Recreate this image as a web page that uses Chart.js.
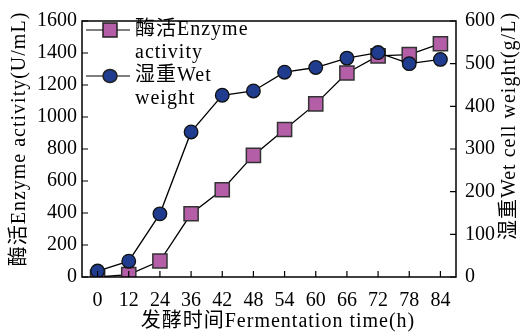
<!DOCTYPE html>
<html>
<head>
<meta charset="utf-8">
<script src="https://cdn.jsdelivr.net/npm/chart.js@4.4.0/dist/chart.umd.min.js"></script>
<style>
  html, body { margin: 0; padding: 0; background: #fff; }
  #wrap { width: 522px; height: 333px; }
</style>
</head>
<body>
<div id="wrap"><canvas id="chart" width="522" height="333"></canvas></div>
<script>
// ===== DATA =====
const hours = ["0", "12", "24", "36", "42", "48", "54", "60", "66", "72", "78", "84"];
const enzymeActivity = [0, 15, 100, 395, 545, 760, 922, 1082, 1275, 1382, 1390, 1458]; // U/mL
const wetWeight = [14, 37, 148, 340, 426, 436, 480, 491, 513, 526, 500, 510]; // g/L
const leftTicks = [0, 200, 400, 600, 800, 1000, 1200, 1400, 1600];
const rightTicks = [0, 100, 200, 300, 400, 500, 600];

const FONT = '"Liberation Serif", "Noto Sans CJK SC", serif';
const PINK = "#b35ea6";
const NAVY = "#1f3c8e";

// ===== FRAME, INNER TICKS, TITLES, LEGEND =====
const decorPlugin = {
  id: "decor",
  afterDraw(chart) {
    const ctx = chart.ctx;
    const a = chart.chartArea;
    const { x, y, y1 } = chart.scales;
    ctx.save();
    ctx.strokeStyle = "#000";
    ctx.lineWidth = 1.5;
    ctx.strokeRect(a.left, a.top, a.right - a.left, a.bottom - a.top);

    // tick marks pointing inwards
    ctx.lineWidth = 1.2;
    ctx.beginPath();
    x.ticks.forEach((t, i) => {
      const px = x.getPixelForTick(i);
      ctx.moveTo(px, a.bottom);
      ctx.lineTo(px, a.bottom - 6);
    });
    y.ticks.forEach((t, i) => {
      const py = y.getPixelForTick(i);
      ctx.moveTo(a.left, py);
      ctx.lineTo(a.left + 6, py);
    });
    y1.ticks.forEach((t, i) => {
      const py = y1.getPixelForTick(i);
      ctx.moveTo(a.right, py);
      ctx.lineTo(a.right - 6, py);
    });
    ctx.stroke();

    // axis titles
    ctx.fillStyle = "#000";
    ctx.font = "20px " + FONT;
    ctx.letterSpacing = "1px";
    ctx.textAlign = "center";
    ctx.textBaseline = "middle";
    ctx.fillText("发酵时间Fermentation time(h)", 278, 322);

    ctx.save();
    ctx.translate(20, 139);
    ctx.rotate(-Math.PI / 2);
    ctx.fillText("酶活Enzyme activity(U/mL)", 0, 0);
    ctx.restore();

    ctx.save();
    ctx.translate(510, 126);
    ctx.rotate(-Math.PI / 2);
    ctx.fillText("湿重Wet cell weight(g/L)", 0, 0);
    ctx.restore();

    // legend
    const rows = [
      { y: 30, text: ["酶活Enzyme", "activity"], shape: "rect" },
      { y: 76, text: ["湿重Wet", "weight"], shape: "circle" },
    ];
    ctx.textAlign = "left";
    rows.forEach((r) => {
      ctx.beginPath();
      ctx.lineWidth = 1.2;
      ctx.moveTo(86, r.y);
      ctx.lineTo(130, r.y);
      ctx.stroke();
      ctx.beginPath();
      if (r.shape === "rect") {
        ctx.rect(103, r.y - 7, 14, 14);
        ctx.fillStyle = PINK;
      } else {
        ctx.ellipse(110, r.y, 7, 6.5, 0, 0, Math.PI * 2);
        ctx.fillStyle = NAVY;
      }
      ctx.fill();
      ctx.lineWidth = 1.5;
      ctx.strokeStyle = "#222";
      ctx.stroke();
      ctx.strokeStyle = "#000";
      ctx.fillStyle = "#000";
      ctx.fillText(r.text[0], 135, r.y);
      ctx.fillText(r.text[1], 135, r.y + 23);
    });
    ctx.restore();
  },
};

const tickFont = { family: FONT, size: 20 };
const plain = (v) => String(v);

new Chart(document.getElementById("chart"), {
  type: "line",
  data: {
    labels: hours,
    datasets: [
      {
        label: "湿重Wet weight",
        data: wetWeight,
        yAxisID: "y1",
        order: 0,
        borderColor: "#000",
        borderWidth: 1.3,
        pointStyle: "circle",
        pointRadius: 6.8,
        pointBackgroundColor: NAVY,
        pointBorderColor: "#111",
        pointBorderWidth: 1.3,
        tension: 0,
      },
      {
        label: "酶活Enzyme activity",
        data: enzymeActivity,
        yAxisID: "y",
        order: 1,
        borderColor: "#000",
        borderWidth: 1.3,
        pointStyle: "rect",
        pointRadius: 10,
        pointBackgroundColor: PINK,
        pointBorderColor: "#333",
        pointBorderWidth: 1.5,
        tension: 0,
      },
    ],
  },
  options: {
    responsive: false,
    animation: false,
    layout: { padding: { top: 16, left: 0, right: 0, bottom: 0 } },
    plugins: { legend: { display: false }, tooltip: { enabled: false } },
    scales: {
      x: {
        type: "category",
        offset: true,
        grid: { display: false, drawTicks: false },
        border: { display: false },
        ticks: { padding: 12, color: "#000", font: tickFont, maxRotation: 0, autoSkip: false },
        afterFit: (s) => { s.height = 56; },
      },
      y: {
        position: "left",
        min: 0,
        max: 1600,
        afterBuildTicks: (s) => { s.ticks = leftTicks.map((v) => ({ value: v })); },
        grid: { display: false, drawTicks: false },
        border: { display: false },
        ticks: { padding: 5, color: "#000", font: tickFont, callback: plain },
        afterFit: (s) => { s.width = 82; },
      },
      y1: {
        position: "right",
        min: 0,
        max: 600,
        afterBuildTicks: (s) => { s.ticks = rightTicks.map((v) => ({ value: v })); },
        grid: { display: false, drawTicks: false },
        border: { display: false },
        ticks: { padding: 9, color: "#000", font: tickFont, callback: plain },
        afterFit: (s) => { s.width = 66; },
      },
    },
  },
  plugins: [decorPlugin],
});
</script>
</body>
</html>
